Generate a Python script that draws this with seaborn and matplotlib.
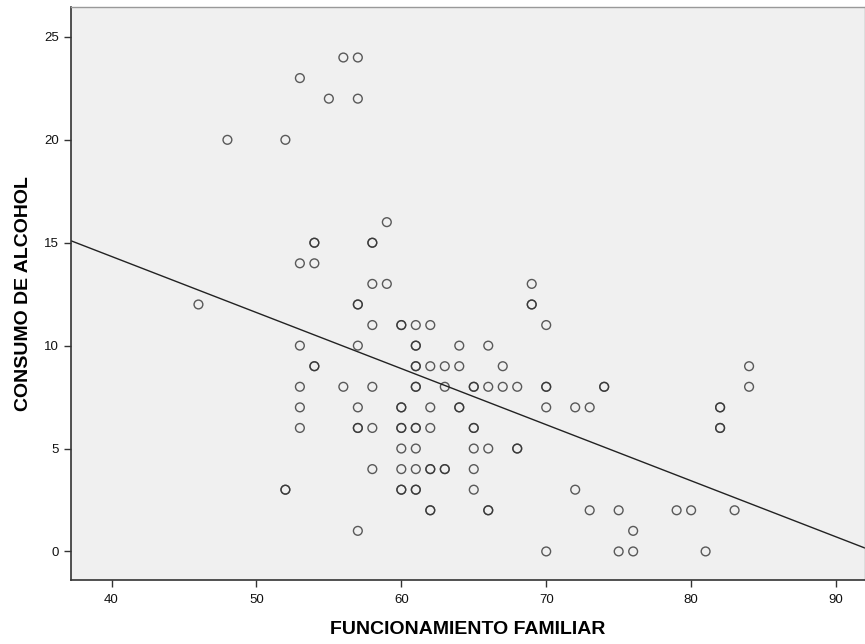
import matplotlib
matplotlib.use("Agg")
import matplotlib.pyplot as plt
import seaborn as sb
import pandas as pd

# Funcionamiento familiar vs consumo de alcohol (duplicated pairs drawn darker in the original)
func_familiar = [56, 57, 53, 55, 57, 48, 52, 59,
                 54, 54, 58, 58, 53, 54, 58, 59, 69,
                 46, 57, 57, 69, 69,
                 58, 60, 60, 61, 62, 70,
                 53, 57, 61, 61, 64, 66,
                 54, 54, 61, 61, 62, 63, 64, 67, 84,
                 53, 56, 58, 61, 61, 63, 65, 65, 66, 67, 68, 70, 70, 74, 74, 84,
                 53, 57, 60, 60, 62, 64, 64, 70, 72, 73, 82, 82,
                 53, 57, 57, 58, 60, 60, 61, 61, 62, 65, 65, 82, 82,
                 60, 61, 65, 66, 68, 68,
                 58, 60, 61, 62, 62, 63, 63, 65,
                 52, 52, 60, 60, 61, 61, 65, 72,
                 62, 62, 66, 66, 73, 75, 79, 80, 83,
                 57, 76,
                 70, 75, 76, 81]
consumo_alcohol = [24, 24, 23, 22, 22, 20, 20, 16,
                   15, 15, 15, 15, 14, 14, 13, 13, 13,
                   12, 12, 12, 12, 12,
                   11, 11, 11, 11, 11, 11,
                   10, 10, 10, 10, 10, 10,
                   9, 9, 9, 9, 9, 9, 9, 9, 9,
                   8, 8, 8, 8, 8, 8, 8, 8, 8, 8, 8, 8, 8, 8, 8, 8,
                   7, 7, 7, 7, 7, 7, 7, 7, 7, 7, 7, 7,
                   6, 6, 6, 6, 6, 6, 6, 6, 6, 6, 6, 6, 6,
                   5, 5, 5, 5, 5, 5,
                   4, 4, 4, 4, 4, 4, 4, 4,
                   3, 3, 3, 3, 3, 3, 3, 3,
                   2, 2, 2, 2, 2, 2, 2, 2, 2,
                   1, 1,
                   0, 0, 0, 0]

df = pd.DataFrame({"func": func_familiar, "alcohol": consumo_alcohol})

sb.set_style("ticks")
plt.rcParams["font.family"] = ["Liberation Sans Narrow", "Liberation Sans", "DejaVu Sans"]

fig = plt.figure(figsize=(8.65, 6.44), dpi=100)
ax = fig.add_axes([0.082, 0.099, 0.918, 0.89])
ax.set_facecolor("#f0f0f0")
ax.set_xlim(37.2, 92.0)
ax.set_ylim(-1.4, 26.45)

sb.regplot(data=df, x="func", y="alcohol", ax=ax, ci=None, truncate=False,
           scatter_kws={"s": 40, "facecolors": "none", "edgecolors": "#333333", "linewidths": 1.0},
           line_kws={"color": "#222222", "linewidth": 1.0})

ax.set_xticks([40, 50, 60, 70, 80, 90])
ax.set_yticks([0, 5, 10, 15, 20, 25])
ax.tick_params(labelsize=9.5, length=5, width=1, color="#333333", labelcolor="#111111")
ax.tick_params(axis="x", pad=5)
label_font = {"family": ["Liberation Sans", "DejaVu Sans"], "size": 14, "weight": "bold", "color": "black"}
ax.set_xlabel("FUNCIONAMIENTO FAMILIAR", fontdict=label_font, labelpad=11)
ax.set_ylabel("CONSUMO DE ALCOHOL", fontdict=label_font, labelpad=9)
for side in ["left", "bottom"]:
    ax.spines[side].set_color("#333333")
    ax.spines[side].set_linewidth(1.2)
for side in ["top", "right"]:
    ax.spines[side].set_color("#999999")
    ax.spines[side].set_linewidth(1.0)

fig.savefig("out.png", dpi=100)
